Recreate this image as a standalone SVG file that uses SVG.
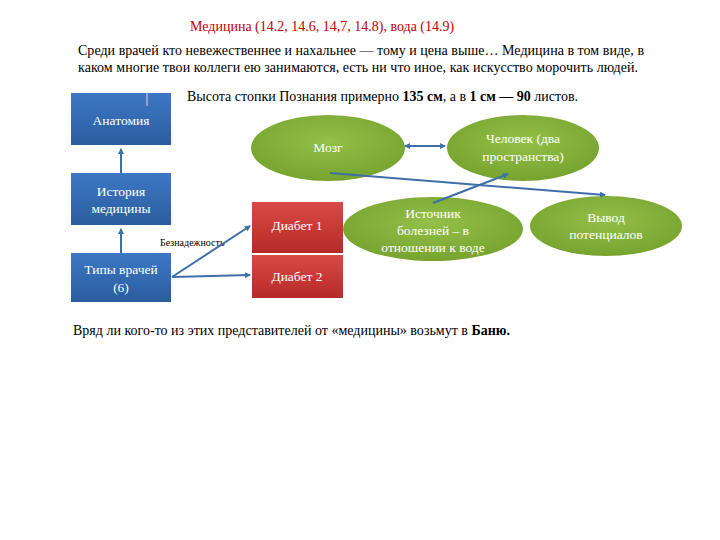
<svg xmlns="http://www.w3.org/2000/svg" width="720" height="540" viewBox="0 0 720 540">
<style>
.t{font-family:"Liberation Serif","DejaVu Serif",serif;font-size:14px;fill:#000}
.w{font-family:"Liberation Serif","DejaVu Serif",serif;font-size:13.5px;fill:#fff;text-anchor:middle}
.c{stroke:#3f6fa8;stroke-width:2;fill:none}
</style>
<defs>
<linearGradient id="b" x1="0" y1="0" x2="0" y2="1"><stop offset="0" stop-color="#3d77c4"/><stop offset="1" stop-color="#2a5d9e"/></linearGradient>
<linearGradient id="r" x1="0" y1="0" x2="0" y2="1"><stop offset="0" stop-color="#d94a46"/><stop offset="1" stop-color="#b52a27"/></linearGradient>
<radialGradient id="g" cx="0.5" cy="0.4" r="0.6"><stop offset="0" stop-color="#94c04a"/><stop offset="1" stop-color="#76a42e"/></radialGradient>
<marker id="a" viewBox="0 0 6 6" refX="5" refY="3" markerWidth="3" markerHeight="3" orient="auto-start-reverse"><path d="M0,0L6,3L0,6z" fill="#3f6fa8"/></marker>
</defs>
<rect width="720" height="540" fill="#fff"/>
<text class="t" x="190" y="31" style="fill:#c00000">Медицина (14.2, 14.6, 14,7, 14.8), вода (14.9)</text>
<text class="t" x="78" y="55" textLength="566">Среди врачей кто невежественнее и нахальнее — тому и цена выше… Медицина в том виде, в</text>
<text class="t" x="78" y="72" textLength="560">каком многие твои коллеги ею занимаются, есть ни что иное, как искусство морочить людей.</text>
<text class="t" x="187" y="101" textLength="391">Высота стопки Познания примерно <tspan font-weight="bold">135 см</tspan>, а в <tspan font-weight="bold">1 см — 90</tspan> листов.</text>
<text class="t" x="73" y="335" textLength="437">Вряд ли кого-то из этих представителей от «медицины» возьмут в <tspan font-weight="bold">Баню.</tspan></text>
<g id="anatomy"><rect x="71" y="93" width="100" height="52" fill="url(#b)"/><text class="w" x="121" y="125">Анатомия</text></g>
<g id="history"><rect x="71" y="173" width="100" height="52" fill="url(#b)"/><text class="w" x="121" y="196">История</text><text class="w" x="121" y="213">медицины</text></g>
<g id="types"><rect x="71" y="253" width="100" height="49" fill="url(#b)"/><text class="w" x="121" y="274">Типы врачей</text><text class="w" x="121" y="292">(6)</text></g>
<g id="label"><text x="160" y="246" style="font-family:'Liberation Serif',serif;font-size:10px">Безнадежность</text></g>
<g id="diabet1"><rect x="252" y="202" width="91" height="51" fill="url(#r)"/><text class="w" x="297" y="230">Диабет 1</text></g>
<g id="diabet2"><rect x="252" y="255" width="91" height="43" fill="url(#r)"/><text class="w" x="297" y="281">Диабет 2</text></g>
<g id="mozg"><ellipse cx="328" cy="148" rx="77" ry="33" fill="url(#g)"/><text class="w" x="328" y="152">Мозг</text></g>
<g id="chelovek"><ellipse cx="523" cy="148" rx="76" ry="33" fill="url(#g)"/><text class="w" x="523" y="143">Человек  (два</text><text class="w" x="523" y="161">пространства)</text></g>
<g id="istochnik"><ellipse cx="433" cy="229" rx="90" ry="32" fill="url(#g)"/><text class="w" x="433" y="218">Источник</text><text class="w" x="433" y="235">болезней – в</text><text class="w" x="433" y="252">отношении к воде</text></g>
<g id="vyvod"><ellipse cx="606" cy="226" rx="76" ry="30" fill="url(#g)"/><text class="w" x="606" y="222">Вывод</text><text class="w" x="606" y="239">потенциалов</text></g>
<g id="connectors">
<line class="c" x1="121" y1="253" x2="121" y2="229" marker-end="url(#a)"/>
<line class="c" x1="121" y1="173" x2="121" y2="149" marker-end="url(#a)"/>
<line class="c" x1="172" y1="277" x2="250" y2="226" marker-end="url(#a)"/>
<line class="c" x1="172" y1="277" x2="250" y2="275" marker-end="url(#a)"/>
<line class="c" x1="405" y1="146" x2="445" y2="146" marker-start="url(#a)" marker-end="url(#a)"/>
<line class="c" x1="330" y1="173" x2="605" y2="195" marker-end="url(#a)"/>
<line class="c" x1="433" y1="203" x2="508" y2="174" marker-end="url(#a)"/>
<line x1="147" y1="92" x2="147" y2="106" stroke="#ddd" stroke-width="1"/>
</g>
</svg>
